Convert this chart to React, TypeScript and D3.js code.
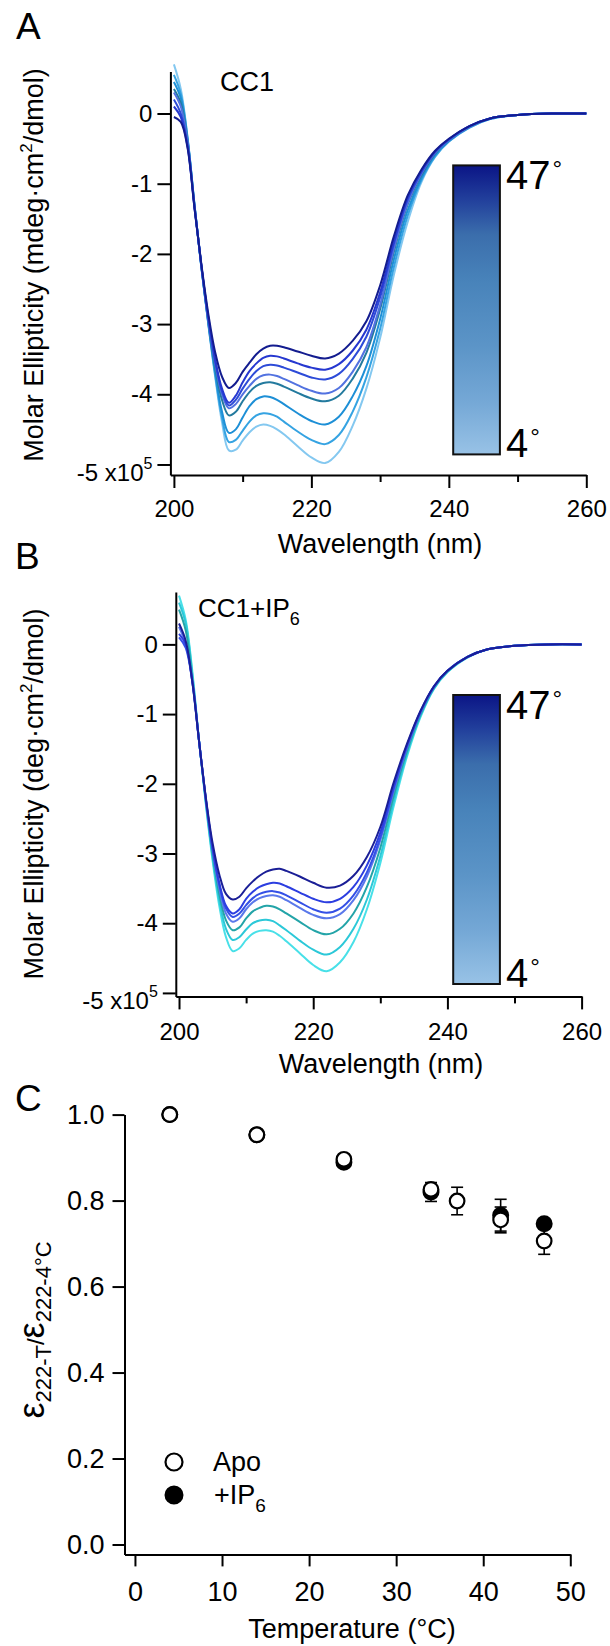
import { useEffect, useRef } from 'react';
import * as d3 from 'd3';

const FONT = '"Liberation Sans", Arial, Helvetica, sans-serif';

// wavelength grid (nm) shared by all spectra
const wavelengths = [200, 201, 202, 203, 204, 205, 206, 207, 208, 209, 210, 211, 212, 213, 214, 215, 216, 218, 220, 222, 224, 226, 228, 230, 232, 234, 236, 238, 240, 243, 246, 250, 255, 260];

// CC1, molar ellipticity in units of 1e5, hottest (47°) first
const cc1Spectra = [
  [-0.05, -0.12, -0.5, -1.35, -2.15, -2.85, -3.4, -3.75, -3.91, -3.84, -3.68, -3.55, -3.43, -3.35, -3.31, -3.31, -3.33, -3.39, -3.45, -3.49, -3.42, -3.24, -2.96, -2.45, -1.75, -1.17, -0.8, -0.53, -0.36, -0.18, -0.07, -0.02, 0, 0],
  [0.1, -0.05, -0.48, -1.35, -2.17, -2.9, -3.5, -3.92, -4.12, -4.02, -3.83, -3.67, -3.56, -3.48, -3.45, -3.46, -3.49, -3.56, -3.62, -3.65, -3.57, -3.38, -3.08, -2.55, -1.82, -1.2, -0.82, -0.54, -0.37, -0.18, -0.07, -0.02, 0, 0],
  [0.2, 0.0, -0.45, -1.33, -2.17, -2.92, -3.53, -3.96, -4.16, -4.08, -3.92, -3.78, -3.67, -3.6, -3.58, -3.59, -3.62, -3.69, -3.76, -3.79, -3.71, -3.5, -3.18, -2.62, -1.86, -1.23, -0.84, -0.55, -0.37, -0.18, -0.07, -0.02, 0, 0],
  [0.3, 0.1, -0.42, -1.32, -2.17, -2.94, -3.56, -4.0, -4.2, -4.14, -4.0, -3.88, -3.78, -3.73, -3.72, -3.74, -3.78, -3.87, -3.95, -3.99, -3.91, -3.68, -3.33, -2.73, -1.93, -1.28, -0.86, -0.56, -0.38, -0.19, -0.07, -0.02, 0, 0],
  [0.35, 0.15, -0.4, -1.32, -2.18, -2.96, -3.62, -4.08, -4.3, -4.25, -4.1, -3.97, -3.88, -3.84, -3.83, -3.85, -3.89, -3.98, -4.06, -4.1, -4.02, -3.78, -3.41, -2.79, -1.97, -1.3, -0.88, -0.57, -0.38, -0.19, -0.07, -0.02, 0, 0],
  [0.45, 0.22, -0.38, -1.31, -2.19, -2.98, -3.68, -4.25, -4.55, -4.5, -4.33, -4.17, -4.07, -4.03, -4.04, -4.08, -4.14, -4.27, -4.38, -4.43, -4.32, -4.03, -3.6, -2.93, -2.08, -1.38, -0.92, -0.59, -0.39, -0.19, -0.07, -0.02, 0, 0],
  [0.55, 0.28, -0.36, -1.3, -2.2, -2.99, -3.72, -4.33, -4.68, -4.65, -4.52, -4.39, -4.3, -4.27, -4.28, -4.32, -4.39, -4.53, -4.65, -4.71, -4.58, -4.25, -3.76, -3.07, -2.19, -1.46, -0.95, -0.61, -0.4, -0.2, -0.08, -0.02, 0, 0],
  [0.7, 0.35, -0.35, -1.3, -2.2, -3.0, -3.75, -4.4, -4.8, -4.79, -4.66, -4.54, -4.46, -4.43, -4.45, -4.5, -4.57, -4.74, -4.9, -4.98, -4.82, -4.45, -3.92, -3.2, -2.3, -1.55, -0.98, -0.62, -0.4, -0.2, -0.08, -0.02, 0, 0],
];
const cc1Colors = ['#131c8f', '#2638d0', '#2d4bd8', '#5272e0', '#237a9e', '#1d8fd6', '#35a3e2', '#84c8f0'];

// CC1 + IP6, hottest (47°) first
const cc1Ip6Spectra = [
  [0.3, 0.05, -0.55, -1.4, -2.2, -2.85, -3.3, -3.58, -3.66, -3.62, -3.5, -3.4, -3.32, -3.26, -3.23, -3.22, -3.25, -3.33, -3.42, -3.49, -3.46, -3.32, -3.05, -2.62, -1.98, -1.42, -0.95, -0.6, -0.38, -0.18, -0.07, -0.02, 0, 0],
  [0.15, 0.0, -0.55, -1.4, -2.22, -2.92, -3.42, -3.75, -3.86, -3.8, -3.65, -3.55, -3.48, -3.44, -3.42, -3.43, -3.47, -3.56, -3.65, -3.7, -3.65, -3.48, -3.17, -2.7, -2.03, -1.44, -0.96, -0.6, -0.38, -0.18, -0.07, -0.02, 0, 0],
  [0.1, -0.05, -0.55, -1.4, -2.22, -2.93, -3.45, -3.79, -3.91, -3.86, -3.74, -3.64, -3.58, -3.55, -3.54, -3.56, -3.6, -3.7, -3.8, -3.85, -3.79, -3.6, -3.27, -2.77, -2.07, -1.46, -0.97, -0.61, -0.38, -0.18, -0.07, -0.02, 0, 0],
  [0.25, 0.0, -0.52, -1.4, -2.23, -2.95, -3.5, -3.86, -3.98, -3.93, -3.8, -3.7, -3.64, -3.61, -3.6, -3.62, -3.67, -3.78, -3.88, -3.93, -3.87, -3.67, -3.33, -2.81, -2.1, -1.48, -0.98, -0.61, -0.38, -0.18, -0.07, -0.02, 0, 0],
  [0.5, 0.2, -0.5, -1.4, -2.25, -3.0, -3.58, -3.96, -4.1, -4.06, -3.93, -3.83, -3.78, -3.75, -3.76, -3.8, -3.86, -3.98, -4.1, -4.16, -4.08, -3.86, -3.48, -2.92, -2.17, -1.52, -1.0, -0.62, -0.39, -0.18, -0.07, -0.02, 0, 0],
  [0.6, 0.3, -0.45, -1.4, -2.27, -3.05, -3.67, -4.08, -4.24, -4.2, -4.09, -4.0, -3.96, -3.95, -3.97, -4.03, -4.1, -4.25, -4.38, -4.45, -4.34, -4.08, -3.66, -3.04, -2.25, -1.56, -1.02, -0.63, -0.39, -0.18, -0.07, -0.02, 0, 0],
  [0.7, 0.35, -0.4, -1.4, -2.3, -3.1, -3.75, -4.2, -4.4, -4.36, -4.24, -4.15, -4.11, -4.1, -4.12, -4.18, -4.26, -4.43, -4.6, -4.69, -4.56, -4.27, -3.8, -3.14, -2.32, -1.6, -1.04, -0.64, -0.4, -0.19, -0.07, -0.02, 0, 0],
];
const cc1Ip6Colors = ['#1a1e96', '#2c3ee0', '#3450e6', '#5a78ea', '#23a4a8', '#2cc8d8', '#48e0e8'];

const ellipTicks = [0, -1, -2, -3, -4, -5];
const waveTicks = [200, 220, 240, 260];
const waveMinor = [210, 230, 250];

// colour bar
const barStops = [
  { o: 0, c: '#0b1586' },
  { o: 0.12, c: '#22409c' },
  { o: 0.24, c: '#3b6eac' },
  { o: 0.4, c: '#4883ba' },
  { o: 0.62, c: '#5b94c7' },
  { o: 0.82, c: '#75a8d6' },
  { o: 1, c: '#98c2e6' },
];

// panel C
const apoTemps = [4, 14, 24, 34, 37, 42, 47];
const apoRatio = [1.0, 0.953, 0.896, 0.826, 0.799, 0.755, 0.706];
const apoErr = [0, 0, 0, 0.01, 0.032, 0.03, 0.031];
const ip6Temps = [4, 14, 24, 34, 42, 47];
const ip6Ratio = [1.0, 0.953, 0.889, 0.82, 0.766, 0.746];
const ip6Err = [0, 0, 0, 0.022, 0.037, 0];
const ratioTicks = [0, 0.2, 0.4, 0.6, 0.8, 1.0];
const tempTicks = [0, 10, 20, 30, 40, 50];

const styleAxis = (g, size) => {
  g.attr('font-family', FONT).attr('font-size', size);
  g.selectAll('path.domain').attr('stroke', '#000').attr('stroke-width', 2);
  g.selectAll('.tick line').attr('stroke', '#000').attr('stroke-width', 2);
  g.selectAll('.tick text').attr('fill', '#000');
};

const drawSpectra = (svg, p) => {
  const x = d3.scaleLinear().domain(p.xDomain).range(p.xRange);
  const y = d3.scaleLinear().domain(p.yDomain).range(p.yRange);

  const line = d3.line()
    .x((d, i) => x(wavelengths[i]))
    .y((d) => y(d))
    .curve(d3.curveCatmullRom.alpha(0.5));

  const series = p.spectra.map((s, i) => ({ s, c: p.colors[i] })).reverse();
  svg.append('g')
    .selectAll('path')
    .data(series)
    .join('path')
    .attr('d', (d) => line(d.s))
    .attr('fill', 'none')
    .attr('stroke', (d) => d.c)
    .attr('stroke-width', 2)
    .attr('stroke-linejoin', 'round');

  // y axis
  const ya = svg.append('g')
    .attr('transform', `translate(${p.xRange[0]},0)`)
    .call(d3.axisLeft(y).tickValues(ellipTicks).tickSize(13).tickSizeOuter(0).tickPadding(5)
      .tickFormat((d) => (d === -5 ? '-5 x10' : String(d))));
  styleAxis(ya, 24);
  ya.selectAll('.tick text').filter((d) => d === -5)
    .attr('dy', '0.66em')
    .append('tspan').attr('dy', -12).attr('font-size', 16).text('5');

  // x axis
  const xa = svg.append('g')
    .attr('transform', `translate(0,${p.yRange[0]})`)
    .call(d3.axisBottom(x).tickValues(waveTicks).tickSize(13).tickSizeOuter(0).tickPadding(p.xPad).tickFormat(d3.format('d')));
  styleAxis(xa, 24);
  const xm = svg.append('g')
    .attr('transform', `translate(0,${p.yRange[0]})`)
    .call(d3.axisBottom(x).tickValues(waveMinor).tickSize(7).tickFormat(() => ''));
  xm.select('path.domain').remove();
  styleAxis(xm, 24);

  // axis titles
  const yt = svg.append('text')
    .attr('transform', `translate(${p.yTitle[0]},${p.yTitle[1]}) rotate(-90)`)
    .attr('text-anchor', 'middle')
    .attr('font-family', FONT)
    .attr('font-size', 27);
  yt.append('tspan').text(p.yLabel);
  yt.append('tspan').attr('dy', -11).attr('font-size', 17).text('2');
  yt.append('tspan').attr('dy', 11).text('/dmol)');

  svg.append('text')
    .attr('x', p.xTitle[0]).attr('y', p.xTitle[1])
    .attr('text-anchor', 'middle')
    .attr('font-family', FONT).attr('font-size', 27)
    .text('Wavelength (nm)');

  // colour bar
  const bar = p.bar;
  svg.append('rect')
    .attr('x', bar.x).attr('y', bar.y).attr('width', bar.w).attr('height', bar.h)
    .attr('fill', 'url(#barGrad)').attr('stroke', '#111').attr('stroke-width', 2);
  const lab = (t, yy) => {
    const tx = svg.append('text').attr('x', bar.x + bar.w + 6).attr('y', yy)
      .attr('font-family', FONT).attr('font-size', 40);
    tx.append('tspan').text(t);
    tx.append('tspan').attr('dy', -12).attr('dx', 2).attr('font-size', 24).text('°');
  };
  lab('47', bar.y + 24);
  lab('4', bar.y + bar.h + 3);

  // panel letter
  svg.append('text').attr('x', p.letter[0]).attr('y', p.letter[1])
    .attr('font-family', FONT).attr('font-size', 37).text(p.letterText);
};

const buildFigure = (node) => {
  const svg = d3.select(node);
  svg.selectAll('*').remove();

  svg.append('rect').attr('width', 610).attr('height', 1646).attr('fill', '#fff');

  const grad = svg.append('defs').append('linearGradient')
    .attr('id', 'barGrad').attr('x1', 0).attr('y1', 0).attr('x2', 0).attr('y2', 1);
  grad.selectAll('stop').data(barStops).join('stop')
    .attr('offset', (d) => d.o).attr('stop-color', (d) => d.c);

  // Panel A
  drawSpectra(svg, {
    spectra: cc1Spectra, colors: cc1Colors,
    xDomain: [199.49, 260], xRange: [170.4, 586.3],
    yDomain: [-5.15, 0.6], yRange: [475, 71.4],
    xPad: 12,
    yLabel: 'Molar Ellipticity (mdeg\u00b7cm',
    yTitle: [43, 265], xTitle: [380, 553],
    bar: { x: 453.2, y: 165.4, w: 46.7, h: 289 },
    letter: [16, 39], letterText: 'A',
  });
  svg.append('text').attr('x', 220).attr('y', 91)
    .attr('font-family', FONT).attr('font-size', 27).text('CC1');

  // Panel B
  drawSpectra(svg, {
    spectra: cc1Ip6Spectra, colors: cc1Ip6Colors,
    xDomain: [199.52, 260], xRange: [175.8, 581.6],
    yDomain: [-5.05, 0.75], yRange: [996.4, 592.1],
    xPad: 14,
    yLabel: 'Molar Ellipticity (deg\u00b7cm',
    yTitle: [43, 794], xTitle: [381, 1073],
    bar: { x: 453.2, y: 695, w: 46.7, h: 289 },
    letter: [15, 569], letterText: 'B',
  });
  const ipLab = svg.append('text').attr('x', 198).attr('y', 617)
    .attr('font-family', FONT).attr('font-size', 26);
  ipLab.append('tspan').text('CC1+IP');
  ipLab.append('tspan').attr('dy', 8).attr('font-size', 18).text('6');

  // Panel C
  const x = d3.scaleLinear().domain([-1.2, 50]).range([124.5, 570.3]);
  const y = d3.scaleLinear().domain([-0.023, 1.0]).range([1554.4, 1114.6]);

  const ya = svg.append('g').attr('transform', 'translate(124.5,0)')
    .call(d3.axisLeft(y).tickValues(ratioTicks).tickSize(12).tickSizeOuter(0).tickPadding(8).tickFormat(d3.format('.1f')));
  styleAxis(ya, 27);
  const xa = svg.append('g').attr('transform', 'translate(0,1554.4)')
    .call(d3.axisBottom(x).tickValues(tempTicks).tickSize(12).tickSizeOuter(0).tickPadding(15).tickFormat(d3.format('d')));
  styleAxis(xa, 27);

  const apo = apoTemps.map((t, i) => ({ t, v: apoRatio[i], e: apoErr[i] }));
  const ip6 = ip6Temps.map((t, i) => ({ t, v: ip6Ratio[i], e: ip6Err[i] }));

  const errG = svg.append('g').attr('stroke', '#000').attr('stroke-width', 1.6);
  [...ip6, ...apo].filter((d) => d.e > 0).forEach((d) => {
    const cx = x(d.t);
    errG.append('line').attr('x1', cx).attr('x2', cx).attr('y1', y(d.v - d.e)).attr('y2', y(d.v + d.e));
    errG.append('line').attr('x1', cx - 6).attr('x2', cx + 6).attr('y1', y(d.v - d.e)).attr('y2', y(d.v - d.e));
    errG.append('line').attr('x1', cx - 6).attr('x2', cx + 6).attr('y1', y(d.v + d.e)).attr('y2', y(d.v + d.e));
  });

  svg.append('g').selectAll('circle').data(ip6).join('circle')
    .attr('cx', (d) => x(d.t)).attr('cy', (d) => y(d.v)).attr('r', 7.5)
    .attr('fill', '#000').attr('stroke', '#000').attr('stroke-width', 2);
  svg.append('g').selectAll('circle').data(apo).join('circle')
    .attr('cx', (d) => x(d.t)).attr('cy', (d) => y(d.v)).attr('r', 7.3)
    .attr('fill', '#fff').attr('stroke', '#000').attr('stroke-width', 2.2);

  // legend
  svg.append('circle').attr('cx', 174).attr('cy', 1462).attr('r', 8.5)
    .attr('fill', '#fff').attr('stroke', '#000').attr('stroke-width', 2.2);
  svg.append('circle').attr('cx', 174).attr('cy', 1495).attr('r', 8.5)
    .attr('fill', '#000').attr('stroke', '#000').attr('stroke-width', 2);
  svg.append('text').attr('x', 213).attr('y', 1471)
    .attr('font-family', FONT).attr('font-size', 27).text('Apo');
  const lg = svg.append('text').attr('x', 214).attr('y', 1504)
    .attr('font-family', FONT).attr('font-size', 27);
  lg.append('tspan').text('+IP');
  lg.append('tspan').attr('dy', 8).attr('font-size', 19).text('6');

  // titles
  svg.append('text').attr('x', 352).attr('y', 1638)
    .attr('text-anchor', 'middle').attr('font-family', FONT).attr('font-size', 27)
    .text('Temperature (\u00b0C)');

  const ct = svg.append('text')
    .attr('transform', 'translate(44,1330) rotate(-90)')
    .attr('text-anchor', 'middle').attr('font-family', FONT);
  ct.append('tspan').attr('font-size', 36).text('\u03b5');
  ct.append('tspan').attr('font-size', 22).attr('dy', 7).text('222-T');
  ct.append('tspan').attr('font-size', 24).attr('dy', -7).text('/');
  ct.append('tspan').attr('font-size', 36).text('\u03b5');
  ct.append('tspan').attr('font-size', 22).attr('dy', 7).text('222-4\u00b0C');

  svg.append('text').attr('x', 15).attr('y', 1111)
    .attr('font-family', FONT).attr('font-size', 37).text('C');
};

const App = () => {
  const ref = useRef(null);

  useEffect(() => {
    buildFigure(ref.current);
  }, []);

  return (
    <svg
      ref={ref}
      width={610}
      height={1646}
      style={{ position: 'absolute', left: 0, top: 0, background: '#fff' }}
    />
  );
};

export default App;
